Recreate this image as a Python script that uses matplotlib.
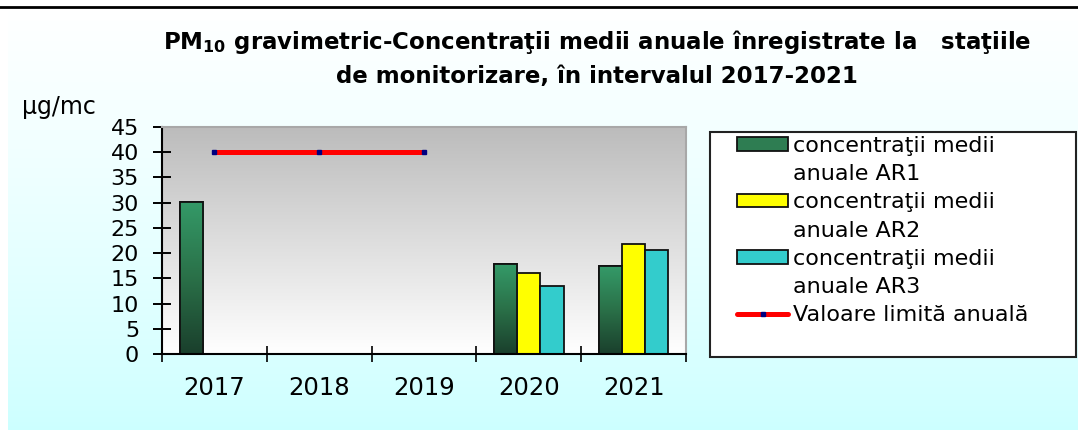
import numpy as np
import matplotlib
matplotlib.use("Agg")
import matplotlib.pyplot as plt
from matplotlib.patches import Rectangle, Patch
from matplotlib.lines import Line2D
from matplotlib.colors import LinearSegmentedColormap

# ---------------- data ----------------
years = ["2017", "2018", "2019", "2020", "2021"]
ar1 = [30.2, np.nan, np.nan, 17.8, 17.4]
ar2 = [np.nan, np.nan, np.nan, 16.1, 21.9]
ar3 = [np.nan, np.nan, np.nan, 13.5, 20.7]
limit = [40, 40, 40, np.nan, np.nan]
yticks = [0, 5, 10, 15, 20, 25, 30, 35, 40, 45]
labels = ["concentraţii medii", "anuale AR1", "concentraţii medii", "anuale AR2",
          "concentraţii medii", "anuale AR3", "Valoare limită anuală"]
title = "PM$_{10}$ gravimetric-Concentraţii medii anuale înregistrate la   staţiile\nde monitorizare, în intervalul 2017-2021"
ylabel = "µg/mc"

plt.rcParams['font.family'] = ['DejaVu Sans']
plt.rcParams['mathtext.fontset'] = 'custom'
plt.rcParams['mathtext.bf'] = 'DejaVu Sans:bold'
plt.rcParams['mathtext.rm'] = 'DejaVu Sans:bold'
plt.rcParams['mathtext.default'] = 'bf'

W, H = 1078, 430
fig = plt.figure(figsize=(W / 100, H / 100), dpi=100)
fig.patch.set_facecolor("white")

# background gradient panel
bg = fig.add_axes([8 / W, 0, 1 - 8 / W, (H - 9) / H], zorder=-10)
bg.set_axis_off()
grad = np.linspace(0, 1, 256) ** 0.8
cmap_bg = LinearSegmentedColormap.from_list("bg", ["#ccffff", "#ffffff"])
bg.imshow(grad[:, None], aspect="auto", cmap=cmap_bg, origin="lower", extent=[0, 1, 0, 1])
bg.set_xlim(0, 1); bg.set_ylim(0, 1)

# top rule
fig.add_artist(Line2D([0, 1], [1 - 7 / H, 1 - 7 / H], color="black", lw=2.0,
                      transform=fig.transFigure))

# main axes
ax = fig.add_axes([162 / W, (H - 354) / H, (686 - 162) / W, (354 - 127) / H])
ax.set_xlim(-0.5, 4.5)
ax.set_ylim(0, 45)
cmap_plot = LinearSegmentedColormap.from_list("pl", ["#ffffff", "#bcbcbc"])
ax.imshow(np.linspace(0, 1, 256)[:, None], aspect="auto", cmap=cmap_plot,
          origin="lower", extent=[-0.5, 4.5, 0, 45], zorder=0)

x = np.arange(len(years))
w = 0.222
b1 = ax.bar(x - w, ar1, w, color="#2e8b57", edgecolor="#111111", lw=1.3, zorder=2)
b2 = ax.bar(x, ar2, w, color="#ffff00", edgecolor="#111111", lw=1.3, zorder=2)
b3 = ax.bar(x + w, ar3, w, color="#33cccc", edgecolor="#111111", lw=1.3, zorder=2)

cmap_g = LinearSegmentedColormap.from_list("g", ["#1a3f2c", "#2a7048", "#349a68"])
for r in b1:
    h = r.get_height()
    if np.isfinite(h) and h > 0:
        im = ax.imshow(np.linspace(0, 1, 256)[:, None], aspect="auto", cmap=cmap_g,
                       origin="lower",
                       extent=[r.get_x(), r.get_x() + r.get_width(), 0, h], zorder=2.1)
        im.set_clip_path(r)
        ax.add_patch(Rectangle((r.get_x(), 0), r.get_width(), h, fill=False,
                               edgecolor="#111111", lw=1.3, zorder=2.2))

ln, = ax.plot(x, limit, color="#ff0000", lw=3.6, solid_capstyle="round", zorder=3,
              marker="s", ms=3, mfc="#000080", mec="#000080")

ax.set_xlim(-0.5, 4.5)
ax.set_ylim(0, 45)

# axes styling
for s in ["left", "bottom"]:
    ax.spines[s].set_color("black"); ax.spines[s].set_linewidth(1.5)
for s in ["top", "right"]:
    ax.spines[s].set_color("#a8a8a8"); ax.spines[s].set_linewidth(1.5)

ax.set_yticks(yticks)
ax.set_yticklabels([str(v) for v in yticks], fontsize=16)
ax.tick_params(axis="y", direction="inout", length=13, width=1.4, pad=10, colors="black")
ax.set_xticks(np.arange(-0.5, 5, 1.0))
ax.set_xticklabels([])
ax.tick_params(axis="x", which="major", direction="inout", length=12, width=1.2)
ax.set_xticks(x, minor=True)
ax.set_xticklabels(years, minor=True, fontsize=17.5)
ax.tick_params(axis="x", which="minor", length=0, pad=16)

# title and unit label
fig.text(597 / W, 1 - 83 / H, title, ha="center", va="baseline", fontsize=16.5,
         fontweight="bold", linespacing=1.5)
fig.text(22 / W, 1 - 114 / H, ylabel, ha="left", va="baseline", fontsize=17)

# legend frame
fig.add_artist(Rectangle((710 / W, 1 - 357 / H), (1076 - 710) / W, (357 - 132) / H,
                         transform=fig.transFigure, facecolor="white",
                         edgecolor="#222222", lw=1.5, zorder=1))
blank = Patch(visible=False)
h1 = Patch(facecolor="#2e7d52", edgecolor="#111111", lw=1.3)
h2 = Patch(facecolor="#ffff00", edgecolor="#111111", lw=1.3)
h3 = Patch(facecolor="#33cccc", edgecolor="#111111", lw=1.3)
handles = [h1, blank, h2, blank, h3, blank, ln]
leg = fig.legend(handles, labels, loc="upper left",
                 bbox_to_anchor=(737 / W, 1 - 136 / H), bbox_transform=fig.transFigure,
                 frameon=False, fontsize=16, borderpad=0, borderaxespad=0,
                 handlelength=2.3, handleheight=0.55, handletextpad=0.2,
                 labelspacing=0.37, numpoints=1)
leg.set_zorder(2)

fig.savefig("out.png", dpi=100)
